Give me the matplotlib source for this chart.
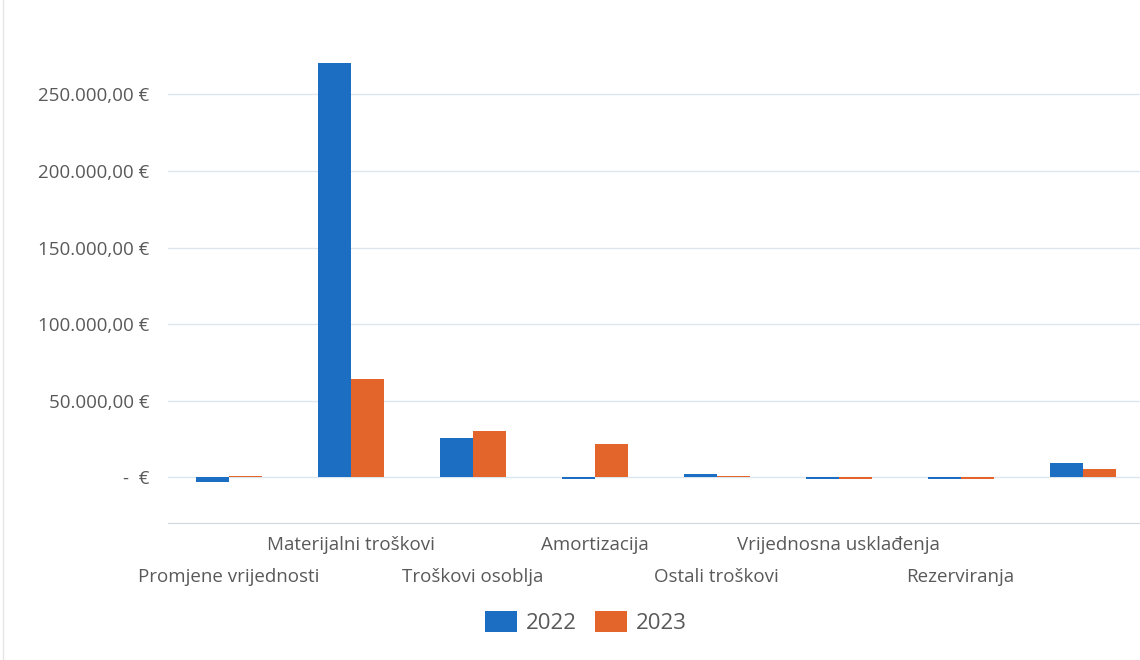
import numpy as np
import matplotlib.pyplot as plt
from matplotlib.ticker import FixedLocator

categories = ["Promjene vrijednosti", "Materijalni troškovi", "Troškovi osoblja",
              "Amortizacija", "Ostali troškovi", "Vrijednosna usklađenja",
              "Rezerviranja", ""]
values_2022 = [-3500, 270500, 25500, -1000, 2000, -1000, -1000, 9000]
values_2023 = [1000, 64000, 30000, 21500, 500, -1000, -1000, 5000]
y_ticks = [0, 50000, 100000, 150000, 200000, 250000]
y_labels = ["-  €", "50.000,00 €", "100.000,00 €", "150.000,00 €",
            "200.000,00 €", "250.000,00 €"]

BLUE = "#1b6ec2"
ORANGE = "#e4652b"
TEXT = "#595959"

plt.rcParams['font.family'] = ['Open Sans', 'DejaVu Sans']

fig = plt.figure(figsize=(11.4, 6.6), dpi=100)
ax = fig.add_axes([0.147, 0.2076, 0.853, 0.7304])

x = np.arange(len(categories))
w = 0.27
ax.bar(x - w / 2, values_2022, w, color=BLUE, label="2022", zorder=3)
ax.bar(x + w / 2, values_2023, w, color=ORANGE, label="2023", zorder=3)

ax.set_xlim(-0.5, 7.47)
ax.set_ylim(-30000, 285000)

ax.yaxis.set_major_locator(FixedLocator(y_ticks))
ax.set_yticklabels(y_labels)
ax.grid(axis='y', color="#dce6ef", linewidth=1, zorder=0)
ax.tick_params(axis='y', length=0, pad=13, labelsize=13.5, labelcolor=TEXT)
ax.tick_params(axis='x', length=0, bottom=False, labelbottom=False)

for s in ["top", "right", "left"]:
    ax.spines[s].set_visible(False)
ax.spines["bottom"].set_color("#d0d7de")

# staggered category labels
for i, name in enumerate(categories):
    y = -0.046 if i % 2 == 1 else -0.112
    ax.text(i, y, name, transform=ax.get_xaxis_transform(), ha='center',
            va='center', fontsize=13.5, color=TEXT)

fig.legend(loc='center', bbox_to_anchor=(0.514, 0.057), ncol=2, frameon=False,
           fontsize=16, handlelength=1.45, handleheight=1.1, columnspacing=0.8,
           handletextpad=0.4, labelcolor=TEXT)

# faint chart frame on the left edge
fig.add_artist(plt.Line2D([0.003, 0.003], [0.0, 1.0], color="#e6e6e6", lw=1))

fig.savefig("out.png", dpi=100, facecolor="white")
